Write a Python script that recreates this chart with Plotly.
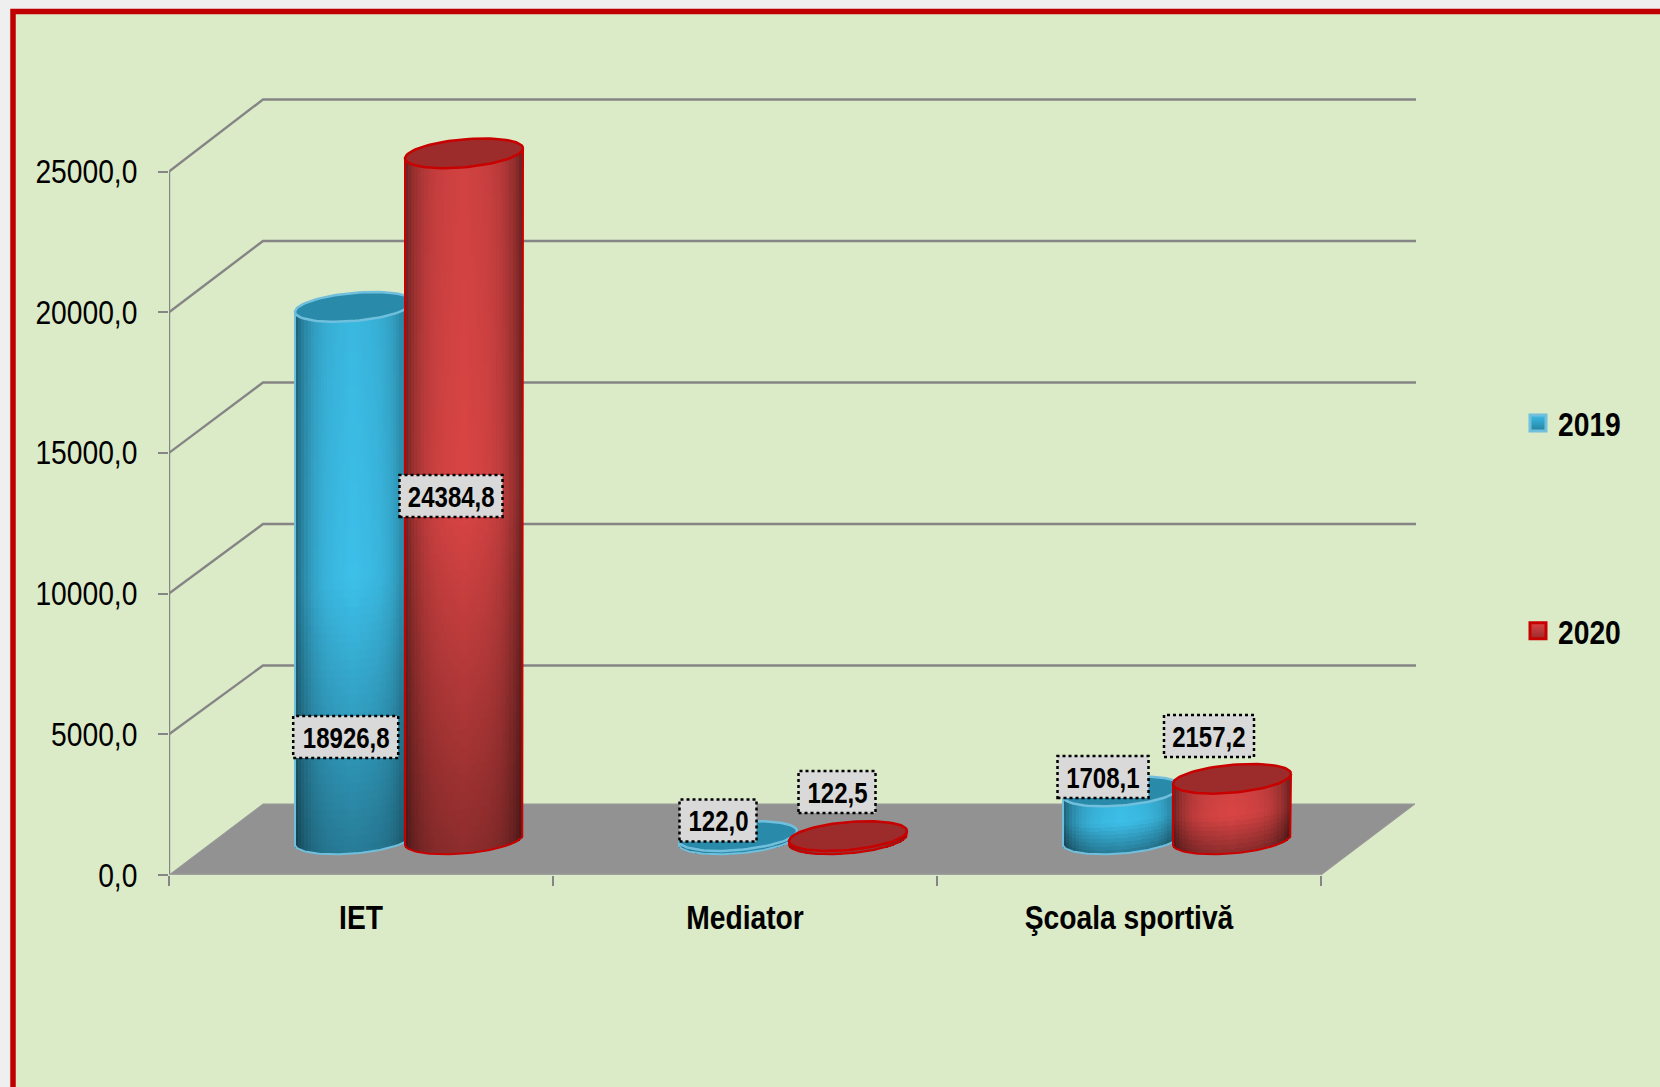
import numpy as np
import plotly.graph_objects as go

categories = ["IET", "Mediator", "Şcoala sportivă"]
series_names = ["2019", "2020"]
values_2019 = [18926.8, 122.0, 1708.1]
values_2020 = [24384.8, 122.5, 2157.2]
y_ticks = [0, 5000, 10000, 15000, 20000, 25000]

FONT = "Liberation Sans, Arial, sans-serif"
GRID = "#858585"
W, H = 1660, 1087
PX_L, PX_B, CAT_PX, VAL_PX = 169, 875, 384.0, 0.02814
PX_R, PX_T = 1416, 98


def X(px):
    return (px - PX_L) / CAT_PX


def Y(py):
    return (PX_B - py) / VAL_PX


x_range = [0, X(PX_R)]
y_range = [0, Y(PX_T)]
DX, DY = 94 / CAT_PX, 71 / VAL_PX        # depth of the pseudo-3D box
BACK_TOP, BACK_SCALE = Y(99.5), 141.5 / 140.7  # back wall sits slightly off the front scale
RADIUS = 59 / CAT_PX                     # cylinder half width
CAP_B, CAP_S = 14 / VAL_PX, 5 / VAL_PX   # ellipse half height and tilt
BASE = 35.5 / VAL_PX                     # cylinder foot above the zero line
OFFSETS = [185 / CAT_PX, 295 / CAT_PX]
BASE_RGB = [(61, 192, 234), (218, 69, 69)]
CAP_COLORS = ["#2a8aaa", "#9c2c2c"]
EDGE_COLORS = ["#70bfdc", "#c80000"]


def fmt(v):
    return f"{v:.1f}".replace(".", ",")


def shade(rgb, u, f):
    g = 1 - 0.1 * abs(u) - 0.4 * abs(u) ** 4
    v = 0.65 + 0.35 * f / 0.5 if f < 0.5 else 1 - 0.04 * (f - 0.5) / 0.5
    return "rgb(%d,%d,%d)" % tuple(int(c * g * v) for c in rgb)


def cylinder(fig, cx, value, s_idx, axes):
    nx = 36
    ny = max(16, int((value + 2 * CAP_B) * VAL_PX / 9))
    xs, bases, hs, colors = [], [], [], []
    us = (np.arange(nx) + 0.5) / nx * 2 - 1
    for u in us:
        low = BASE + CAP_S * u - CAP_B * np.sqrt(1 - u * u)
        top = BASE + value + CAP_S * u
        for j in range(ny):
            b0 = low + (top - low) * j / ny
            b1 = low + (top - low) * min(j + 1.3, ny) / ny
            xs.append(cx + u * RADIUS)
            bases.append(b0)
            hs.append(b1 - b0)
            colors.append(shade(BASE_RGB[s_idx], u, (j + 0.5) / ny))
    fig.add_trace(go.Bar(x=xs, y=hs, base=bases, width=2 * RADIUS / nx * 1.25,
                         marker=dict(color=colors, line=dict(width=0)),
                         showlegend=False, hoverinfo="skip", **axes))
    t = np.linspace(0, np.pi, 60)
    ox = cx + RADIUS * np.cos(t)
    oy = BASE + CAP_S * np.cos(t) - CAP_B * np.sin(t)
    ox = np.concatenate([[cx + RADIUS], ox, [cx - RADIUS]])
    oy = np.concatenate([[BASE + value + CAP_S], oy, [BASE + value - CAP_S]])
    fig.add_trace(go.Scatter(x=ox, y=oy, mode="lines",
                             line=dict(color=EDGE_COLORS[s_idx], width=2),
                             showlegend=False, hoverinfo="skip", **axes))
    t = np.linspace(0, 2 * np.pi, 90)
    fig.add_trace(go.Scatter(x=cx + RADIUS * np.cos(t),
                             y=BASE + value + CAP_S * np.cos(t) + CAP_B * np.sin(t),
                             mode="lines", fill="toself", fillcolor=CAP_COLORS[s_idx],
                             line=dict(color=EDGE_COLORS[s_idx], width=2.5),
                             showlegend=False, hoverinfo="skip", **axes))


fig = go.Figure()

# Legend entries (one gradient swatch per series)
for name, top_c, low_c, edge in [("2019", "#3cbde8", "#2481a0", "#70bfdc"),
                                 ("2020", "#da4545", "#9a2a2a", "#c80000")]:
    fig.add_trace(go.Scatter(x=[None], y=[None], mode="markers", name=name, legendgroup=name,
                             marker=dict(symbol="square", size=16, color=top_c,
                                         gradient=dict(type="vertical", color=low_c),
                                         line=dict(color=edge, width=3))))

# Blue on the base axes, red on an overlaid pair so that it covers the blue caps
for i in range(len(categories)):
    cylinder(fig, i + OFFSETS[0], values_2019[i], 0, dict(xaxis="x", yaxis="y"))
for i in range(len(categories)):
    cylinder(fig, i + OFFSETS[1], values_2020[i], 1, dict(xaxis="x2", yaxis="y2"))

shapes = []
# Page frame
frame = dict(type="rect", xref="paper", yref="paper", layer="below",
             x0=(13 - PX_L) / (PX_R - PX_L), x1=(W + 20 - PX_L) / (PX_R - PX_L),
             y0=(PX_B - (H + 20)) / (PX_B - PX_T), y1=(PX_B - 11.5) / (PX_B - PX_T),
             fillcolor="#dbeac7", line=dict(color="#c00000", width=5.5))
shapes.append(frame)
# Floor
n = len(categories)
shapes.append(dict(type="path", layer="below", xref="x", yref="y",
                   path=f"M 0 0 L {n} 0 L {n + DX} {DY} L {DX} {DY} Z",
                   fillcolor="#929292", line=dict(color="#999999", width=1)))
# Gridlines: side wall plus back wall
for v in y_ticks[1:]:
    back = BACK_TOP - (y_ticks[-1] - v) * BACK_SCALE
    shapes.append(dict(type="path", layer="below", xref="x", yref="y",
                       path=f"M 0 {v} L {DX} {back} L {x_range[1]} {back}",
                       line=dict(color=GRID, width=2.4)))
shapes.append(dict(type="line", layer="below", xref="x", yref="y", x0=0, x1=0, y0=0, y1=y_ticks[-1],
                   line=dict(color=GRID, width=2.4)))
shapes.append(dict(type="line", layer="below", xref="x", yref="y", x0=0, x1=n, y0=0, y1=0,
                   line=dict(color="#a0a0a0", width=2.4)))

# Data labels
label_centres = [(345.7, 737, 105), (718, 820.5, 77), (1103, 777, 91),
                 (451, 496, 103), (837, 792, 77), (1209, 736, 90)]
label_texts = [fmt(v) for v in values_2019 + values_2020]
annotations = []
for (cx, cy, w), txt in zip(label_centres, label_texts):
    shapes.append(dict(type="rect", layer="above", xref="x", yref="y",
                       x0=X(cx - w / 2), x1=X(cx + w / 2), y0=Y(cy + 21), y1=Y(cy - 21),
                       fillcolor="#d9d9d9", line=dict(color="#000000", width=2.5, dash="dot")))
    annotations.append(dict(x=X(cx), y=Y(cy), xref="x", yref="y", text=txt, showarrow=False,
                            font=dict(family=FONT, size=30, color="#000000", weight="bold")))

fig.update_layout(
    width=W, height=H, autosize=False,
    margin=dict(l=PX_L, r=W - PX_R, t=PX_T, b=H - PX_B, pad=0),
    paper_bgcolor="#efefef", plot_bgcolor="rgba(0,0,0,0)",
    barmode="overlay", bargap=0,
    shapes=shapes, annotations=annotations,
    hovermode=False,
    xaxis=dict(range=x_range, tickvals=[i + 0.5 for i in range(n)], ticktext=categories,
               ticks="", showline=False, showgrid=False, zeroline=False, ticklabelstandoff=20,
               tickfont=dict(family=FONT, size=33, color="#000000", weight="bold"),
               minor=dict(tickvals=list(range(n + 1)), ticks="outside", ticklen=10, tickwidth=2,
                          tickcolor=GRID, showgrid=False)),
    yaxis=dict(range=y_range, tickvals=y_ticks, ticktext=[fmt(v) for v in y_ticks],
               ticks="outside", ticklen=10, tickwidth=2, tickcolor=GRID,
               showline=False, showgrid=False, zeroline=False, ticklabelstandoff=14,
               tickfont=dict(family=FONT, size=33, color="#000000")),
    xaxis2=dict(range=x_range, overlaying="x", matches="x", visible=False),
    yaxis2=dict(range=y_range, overlaying="y", matches="y", visible=False),
    showlegend=True,
    legend=dict(x=(1518 - PX_L) / (PX_R - PX_L), y=(PX_B - 395) / (PX_B - PX_T),
                xanchor="left", yanchor="top", bgcolor="rgba(0,0,0,0)", borderwidth=0,
                tracegroupgap=162, traceorder="grouped",
                font=dict(family=FONT, size=33, color="#000000", weight="bold")),
)

# The reference uses a narrow face; no narrow font is installed, so the real
# text is condensed in place to the width that face would have.
narrow = """
var gd = document.querySelector('.plotly-graph-div');
function narrowText() {
  gd.querySelectorAll('svg text').forEach(function (t) {
    if (t.getAttribute('data-narrow')) return;
    var l = t.getComputedTextLength();
    if (l > 0) {
      var k = t.closest('.annotation') ? 0.80 : 0.855;
      t.setAttribute('textLength', l * k);
      t.setAttribute('lengthAdjust', 'spacingAndGlyphs');
      t.setAttribute('data-narrow', '1');
    }
  });
}
narrowText();
gd.on('plotly_afterplot', narrowText);
document.body.style.margin = '0';
document.body.style.overflow = 'hidden';
"""
fig.write_html("out.html", config={"displayModeBar": False}, post_script=narrow)
